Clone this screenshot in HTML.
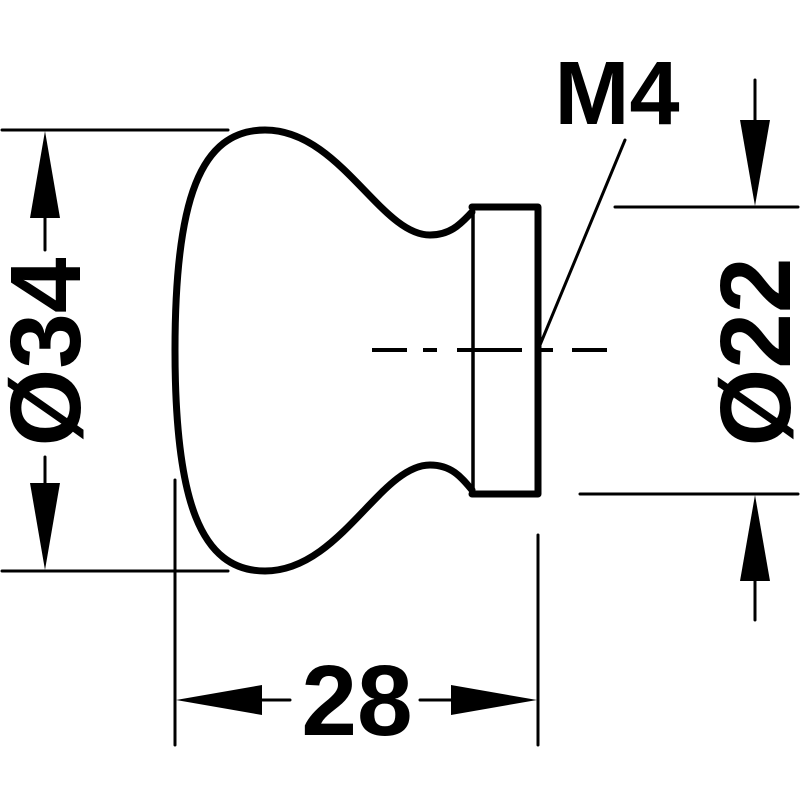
<!DOCTYPE html>
<html><head><style>html,body{margin:0;padding:0;background:#fff;}svg{display:block}</style></head>
<body>
<svg width="800" height="800" viewBox="0 0 800 800" xmlns="http://www.w3.org/2000/svg">
<g fill="none" stroke="#000" stroke-linecap="round" stroke-linejoin="round">
<path d="M472,212 C462,222 452,235 430,235 C380,235 340,130 265,130 C200,130 175,200 175,350 C175,500 200,571 265,571 C340,571 380,465 430,465 C452,465 462,478 472,490" stroke-width="7"/>
<path d="M472,207 L538,207 L538,494 L472,494" stroke-width="7"/>
<line x1="473" y1="207" x2="473" y2="494" stroke-width="3.5"/>
<g stroke-width="4" stroke-linecap="butt">
<line x1="372" y1="350" x2="407" y2="350"/>
<line x1="423" y1="350" x2="437" y2="350"/>
<line x1="457" y1="350" x2="522" y2="350"/>
<line x1="540" y1="350" x2="553" y2="350"/>
<line x1="572" y1="350" x2="607" y2="350"/>
</g>
<line x1="625" y1="140" x2="540" y2="345" stroke-width="3"/>
<line x1="2" y1="130" x2="228" y2="130" stroke-width="3"/>
<line x1="2" y1="571" x2="228" y2="571" stroke-width="3"/>
<line x1="45" y1="200" x2="45" y2="250" stroke-width="3"/>
<line x1="45" y1="457" x2="45" y2="500" stroke-width="3"/>
<line x1="615" y1="207" x2="798" y2="207" stroke-width="3"/>
<line x1="580" y1="494" x2="798" y2="494" stroke-width="3"/>
<line x1="755" y1="80" x2="755" y2="130" stroke-width="3"/>
<line x1="755" y1="570" x2="755" y2="620" stroke-width="3"/>
<line x1="175" y1="480" x2="175" y2="745" stroke-width="3"/>
<line x1="538" y1="535" x2="538" y2="745" stroke-width="3"/>
<line x1="240" y1="700" x2="290" y2="700" stroke-width="3"/>
<line x1="420" y1="700" x2="470" y2="700" stroke-width="3"/>
</g>
<g fill="#000">
<polygon points="45,131 30,218 60,218"/>
<polygon points="45,570 30,483 60,483"/>
<polygon points="755,206 740,120 770,120"/>
<polygon points="755,495 740,581 770,581"/>
<polygon points="176,700 262,685 262,715"/>
<polygon points="537,700 451,685 451,715"/>
</g>
<g font-family="Liberation Sans, sans-serif" font-size="100" font-weight="bold" fill="#000">
<text x="0" y="0" text-anchor="middle" transform="translate(80,352) rotate(-90)">Ø34</text>
<text x="0" y="0" text-anchor="middle" transform="translate(790,352) rotate(-90)">Ø22</text>
<text x="357" y="735" text-anchor="middle">28</text>
<text x="617" y="124" text-anchor="middle" font-size="90">M4</text>
</g>
</svg>
</body></html>
